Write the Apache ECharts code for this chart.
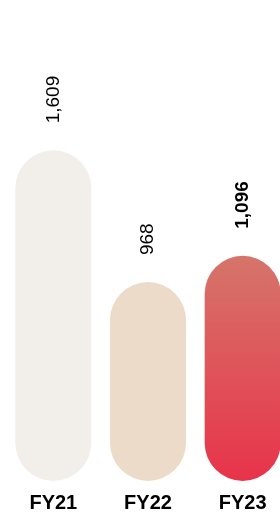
<!DOCTYPE html>
<html>
<head>
<meta charset="utf-8">
<script src="https://cdn.jsdelivr.net/npm/echarts@6/dist/echarts.min.js"></script>
<style>
  html, body { margin: 0; padding: 0; background: #fff; }
  #chart { width: 280px; height: 518px; }
</style>
</head>
<body>
<div id="chart"></div>
<script>
const years = ["FY21", "FY22", "FY23"];
const values = [1609, 968, 1096];
const barColors = ["#f2efea", "#ebdbc8", null]; // last one is the red gradient

const chart = echarts.init(document.getElementById("chart"));

const data = values.map((v, i) => {
  const last = i === values.length - 1;
  return {
    value: v,
    itemStyle: {
      color: last
        ? new echarts.graphic.LinearGradient(0, 0, 0, 1, [
            { offset: 0, color: "#d5756a" },
            { offset: 1, color: "#e8334a" },
          ])
        : barColors[i],
    },
    label: { fontWeight: last ? "bold" : "normal" },
  };
});

const option = {
  backgroundColor: "#fff",
  animation: false,
  // the last bar runs to the right edge, so let the grid go past it
  grid: { left: 6, width: 284, top: 70, bottom: 37, outerBoundsMode: "none" },
  xAxis: {
    type: "category",
    data: years,
    axisLine: { show: false },
    axisTick: { show: false },
    axisLabel: {
      color: "#000",
      fontFamily: "Liberation Sans",
      fontWeight: "bold",
      fontSize: 20,
      margin: 12,
    },
  },
  yAxis: {
    type: "value",
    min: 0,
    max: 2000,
    show: false,
    splitLine: { show: false },
  },
  series: [
    {
      type: "bar",
      barWidth: 76,
      data: data,
      itemStyle: { borderRadius: 38 },
      label: {
        show: true,
        position: "top",
        distance: 27,
        rotate: 90,
        align: "left",
        verticalAlign: "middle",
        color: "#000",
        fontFamily: "Liberation Sans",
        fontSize: 19,
        formatter: (p) => p.value.toLocaleString("en-US"),
      },
    },
  ],
};

chart.setOption(option);
</script>
</body>
</html>
